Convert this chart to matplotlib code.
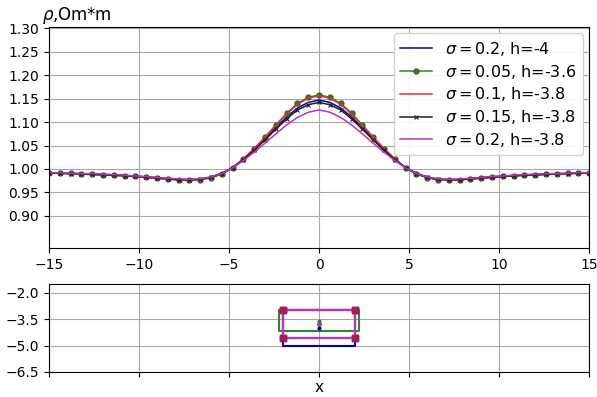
import numpy as np
import matplotlib
matplotlib.use('Agg')
import matplotlib.pyplot as plt

# x grid of the profile (step 0.6)
x = np.linspace(-15, 15, 51)

# rho values, x from -15 to 15
rho_blue = [0.992, 0.991, 0.990, 0.989, 0.988, 0.987, 0.986, 0.985, 0.984, 0.982, 0.980, 0.979, 0.977,
            0.977, 0.978, 0.983, 0.991, 1.003, 1.021, 1.041, 1.064, 1.088, 1.111, 1.130, 1.142, 1.147,
            1.142, 1.130, 1.111, 1.088, 1.064, 1.041, 1.021, 1.003, 0.991, 0.983, 0.978, 0.977,
            0.977, 0.979, 0.980, 0.982, 0.984, 0.985, 0.986, 0.987, 0.988, 0.989, 0.990, 0.991, 0.992]
rho_green = [0.992, 0.991, 0.991, 0.990, 0.989, 0.988, 0.987, 0.986, 0.985, 0.983, 0.981, 0.979, 0.977,
             0.976, 0.977, 0.981, 0.989, 1.002, 1.021, 1.043, 1.068, 1.094, 1.119, 1.140, 1.153, 1.158,
             1.153, 1.140, 1.119, 1.094, 1.068, 1.043, 1.021, 1.002, 0.989, 0.981, 0.977, 0.976,
             0.977, 0.979, 0.981, 0.983, 0.985, 0.986, 0.987, 0.988, 0.989, 0.990, 0.991, 0.991, 0.992]
rho_red = [0.992, 0.991, 0.990, 0.990, 0.989, 0.988, 0.987, 0.986, 0.984, 0.982, 0.980, 0.978, 0.977,
           0.976, 0.978, 0.982, 0.990, 1.003, 1.022, 1.044, 1.068, 1.093, 1.117, 1.138, 1.151, 1.156,
           1.151, 1.138, 1.117, 1.093, 1.068, 1.044, 1.022, 1.003, 0.990, 0.982, 0.978, 0.976,
           0.977, 0.978, 0.980, 0.982, 0.984, 0.986, 0.987, 0.988, 0.989, 0.990, 0.990, 0.991, 0.992]
rho_black = [0.992, 0.991, 0.990, 0.990, 0.989, 0.988, 0.987, 0.986, 0.984, 0.983, 0.981, 0.979, 0.977,
             0.977, 0.978, 0.982, 0.990, 1.002, 1.020, 1.040, 1.062, 1.085, 1.107, 1.126, 1.137, 1.142,
             1.137, 1.126, 1.107, 1.085, 1.062, 1.040, 1.020, 1.002, 0.990, 0.982, 0.978, 0.977,
             0.977, 0.979, 0.981, 0.983, 0.984, 0.986, 0.987, 0.988, 0.989, 0.990, 0.990, 0.991, 0.992]
rho_pink = [0.992, 0.992, 0.991, 0.990, 0.990, 0.989, 0.988, 0.987, 0.985, 0.984, 0.982, 0.980, 0.979,
            0.978, 0.979, 0.983, 0.990, 1.002, 1.018, 1.036, 1.055, 1.075, 1.094, 1.110, 1.121, 1.126,
            1.121, 1.110, 1.094, 1.075, 1.055, 1.036, 1.018, 1.002, 0.990, 0.983, 0.979, 0.978,
            0.979, 0.980, 0.982, 0.984, 0.985, 0.987, 0.988, 0.989, 0.990, 0.990, 0.991, 0.992, 0.992]

labels = [r'$\sigma = 0.2$, h=-4', r'$\sigma = 0.05$, h=-3.6', r'$\sigma = 0.1$, h=-3.8',
          r'$\sigma = 0.15$, h=-3.8', r'$\sigma = 0.2$, h=-3.8']

# body geometry (lower panel): half width, top, bottom, centre depth
body_half = [2.0, 2.2, 2.0, 2.0, 2.0]
body_top = [-3.0, -3.0, -3.0, -3.0, -3.0]
body_bot = [-5.0, -4.2, -4.6, -4.6, -4.6]
body_h = [-4.0, -3.6, -3.8, -3.8, -3.8]

colors = ['#0000c0', '#2a8a2a', '#e03030', '#202020', '#c030c0']

fig = plt.figure(figsize=(5.97, 3.97), dpi=100)
ax1 = fig.add_axes([0.082, 0.375, 0.905, 0.557])
ax2 = fig.add_axes([0.082, 0.063, 0.905, 0.222])

ax1.plot(x, rho_blue, color=colors[0], lw=1.1, label=labels[0])
ax1.plot(x, rho_green, color=colors[1], lw=1.1, marker='o', ms=3.5, mfc='#4a7030', mec='#3e6028',
         label=labels[1])
ax1.plot(x, rho_red, color=colors[2], lw=1.1, label=labels[2])
ax1.plot(x, rho_black, color=colors[3], lw=1.1, marker='x', ms=3, mew=0.8, label=labels[3])
ax1.plot(x, rho_pink, color=colors[4], lw=1.1, label=labels[4])

ax1.set_xlim(-15, 15)
ax1.set_ylim(0.831, 1.303)
ax1.set_yticks(np.arange(0.90, 1.31, 0.05))
ax1.set_xticks(np.arange(-15, 16, 5))
ax1.tick_params(labelsize=10)
ax1.grid(True, color='#a8a8a8', lw=0.8)
ax1.legend(loc='upper right', fontsize=11.5, labelspacing=0.3, handlelength=2.0,
           borderaxespad=0.4, framealpha=0.9)
ax1.text(-0.012, 1.005, r'$\rho$,Om*m', transform=ax1.transAxes, ha='left', va='bottom', fontsize=12)

for i in range(5):
    w = body_half[i]
    bx = [-w, w, w, -w, -w]
    by = [body_top[i], body_top[i], body_bot[i], body_bot[i], body_top[i]]
    ax2.plot(bx, by, color=colors[i], lw=1.5)
    if i >= 2:
        ax2.plot(bx[:4], by[:4], ls='none', marker='s', ms=4, color='#a0205a')
for i in range(5):
    ax2.plot([0], [body_h[i]], ls='none', marker='o', ms=2, color=colors[i])

ax2.set_xlim(-15, 15)
ax2.set_ylim(-6.5, -1.5)
ax2.set_yticks([-2.0, -3.5, -5.0, -6.5])
ax2.set_xticks(np.arange(-15, 16, 5))
ax2.tick_params(labelsize=10, labelbottom=False)
ax2.grid(True, color='#a8a8a8', lw=0.8)
ax2.set_xlabel('x', fontsize=11, labelpad=2)

fig.savefig('out.png', dpi=100)
